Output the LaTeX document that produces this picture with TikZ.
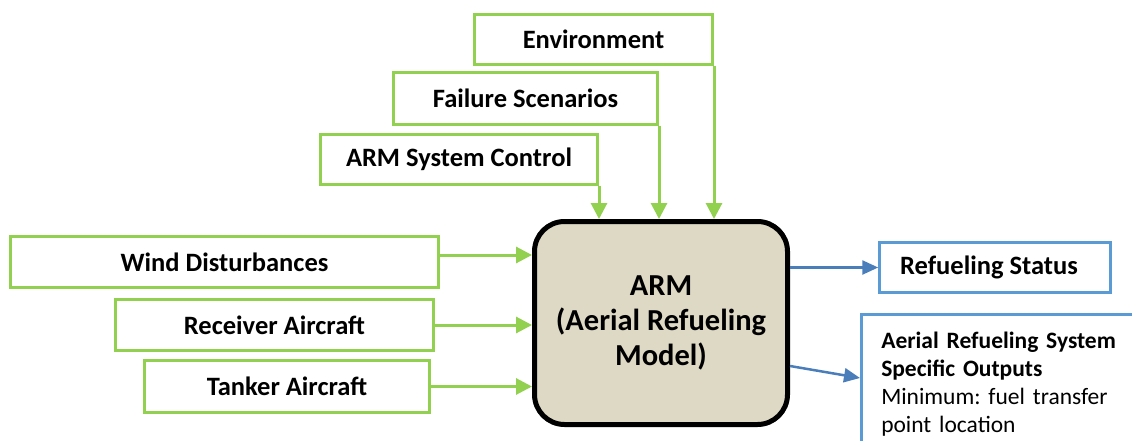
\documentclass[tikz,border=0pt]{standalone}
\usepackage{fontspec}
\setmainfont{Carlito}
\usepackage{tikz}
\usetikzlibrary{arrows.meta}
\definecolor{ingreen}{HTML}{92D050}
\definecolor{outblue}{HTML}{4A7EBB}
\definecolor{boxblue}{HTML}{5B9BD5}
\definecolor{modeltan}{HTML}{DDD9C4}
\tikzset{
  inbox/.style={draw=ingreen, line width=3pt, fill=white, inner sep=0pt, font=\fontsize{26.5}{32}\selectfont\bfseries},
  outbox/.style={draw=boxblue, line width=2.5pt, fill=white, inner sep=0pt},
  model/.style={draw=black, line width=5pt, fill=modeltan, rounded corners=30pt, align=center,
    minimum width=253pt, minimum height=203pt, font=\fontsize{30.5}{35}\selectfont\bfseries},
  inarrow/.style={draw=ingreen, line width=3pt, -{Triangle[length=16pt,width=16pt]}},
  outarrow/.style={draw=outblue, line width=2.5pt, -{Triangle[length=16pt,width=14pt]}},
}

\begin{document}
\begin{tikzpicture}[x=1pt, y=-1pt]
  \useasboundingbox (0,0) rectangle (1132,441);
  % the model in the middle
  \node[model] (arm) at (661,323) {ARM\\(Aerial Refueling\\Model)};
  % controls from above
  \node[inbox, minimum width=238pt, minimum height=50pt] (env) at (593.5,39.5) {Environment};
  \node[inbox, minimum width=264pt, minimum height=52pt] (fail) at (525.5,98.5) {Failure Scenarios};
  \node[inbox, minimum width=277pt, minimum height=50pt] (ctrl) at (459,159.5) {ARM System Control};
  % inputs from the left
  \node[inbox, minimum width=428pt, minimum height=51pt] (wind) at (224.5,262) {Wind Disturbances};
  \node[inbox, minimum width=318pt, minimum height=51pt] (recv) at (274.5,325) {Receiver Aircraft};
  \node[inbox, minimum width=285pt, minimum height=52pt] (tank) at (287,386.5) {Tanker Aircraft};
  % outputs
  \node[outbox, minimum width=231pt, minimum height=50pt, font=\fontsize{26.5}{32}\selectfont\bfseries]
    (status) at (995,267.5) {\hspace*{-12pt}Refueling Status};
  \node[outbox, anchor=north west, text width=270pt, align=left, inner xsep=20pt, minimum height=140pt,
    font=\fontsize{23.5}{28}\selectfont\frenchspacing] (outputs) at (860,313)
    {\textbf{Aerial Refueling System}\\\textbf{Specific Outputs}\\Minimum: fuel transfer\\point location};

  \draw[inarrow] (ctrl.south east) -- (ctrl.south east |- arm.north);
  \draw[inarrow] (fail.south east) -- (fail.south east |- arm.north);
  \draw[inarrow] (env.south east) -- (env.south east |- arm.north);

  \coordinate (windout) at ([yshift=7pt]wind.east);
  \draw[inarrow] (windout) -- (windout -| arm.west);
  \draw[inarrow] (recv.east) -- (recv.east -| arm.west);
  \draw[inarrow] (tank.east) -- (tank.east -| arm.west);

  \draw[outarrow] (arm.east |- status.west) -- (status.west);
  \draw[outarrow] ([yshift=-43pt]arm.east) -- ([yshift=-65pt]outputs.north west);
\end{tikzpicture}
\end{document}
